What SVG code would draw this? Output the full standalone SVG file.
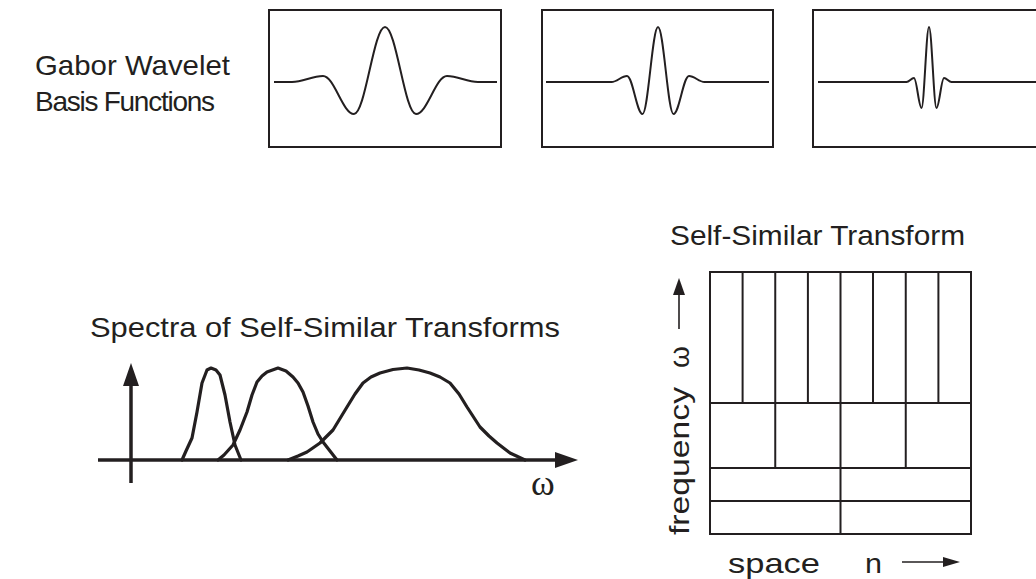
<svg xmlns="http://www.w3.org/2000/svg" width="1036" height="579" viewBox="0 0 1036 579">
<style>
.t{font-family:"Liberation Sans",Arial,sans-serif;font-size:28px;fill:#231f20}
.box{fill:none;stroke:#231f20;stroke-width:2}
.wave{fill:none;stroke:#231f20;stroke-width:2;stroke-linejoin:round}
.spec{fill:none;stroke:#231f20;stroke-width:3.2;stroke-linejoin:round;stroke-linecap:round}
.axis{stroke:#231f20;stroke-width:3.5;fill:none}
.grid{fill:none;stroke:#231f20;stroke-width:2}
.thin{stroke:#231f20;stroke-width:1.6;fill:none}
.head{fill:#231f20;stroke:none}
</style>
<rect width="1036" height="579" fill="#ffffff"/>
<g id="title-gabor">
<text class="t" x="35" y="75" textLength="195" lengthAdjust="spacingAndGlyphs">Gabor Wavelet</text>
<text class="t" x="35" y="111" textLength="180" lengthAdjust="spacing">Basis Functions</text>
</g>
<g id="wavelet1">
<rect class="box" x="269" y="10" width="232" height="137"/>
<path class="wave" d="M274,82 L292,82 C303.3,82 311.7,76 323,76 C334.3,76 342.7,114 354,114 C365.3,114 373.7,27 385,27 C396.3,27 404.7,114 416,114 C427.3,114 435.7,76 447,76 C458.3,76 466.7,82 478,82 L497,82"/>
</g>
<g id="wavelet2">
<rect class="box" x="542" y="10" width="231" height="137"/>
<path class="wave" d="M546,82 L611.5,82 C617.15,82 621.35,76 627,76 C632.65,76 636.85,114 642.5,114 C648.15,114 652.35,27 658,27 C663.65,27 667.85,114 673.5,114 C679.15,114 683.35,76 689,76 C694.65,76 698.85,82 704.5,82 L769,82"/>
</g>
<g id="wavelet3">
<rect class="box" x="813" y="10" width="240" height="137"/>
<path class="wave" d="M818,82 L906.5,82 C909.2,82 911.3,78 914,78 C916.7,78 918.8,108 921.5,108 C924.2,108 926.3,27 929,27 C931.7,27 933.8,108 936.5,108 C939.2,108 941.3,78 944,78 C946.7,78 948.8,82 951.5,82 L1040,82"/>
</g>
<g id="spectra">
<text class="t" x="90" y="337" textLength="470" lengthAdjust="spacingAndGlyphs">Spectra of Self-Similar Transforms</text>
<polyline class="spec" points="182,460 186,451 192,438 197,412 202,383 207,370 211,368 216,370 220,375 225,395 230,422 235,445 241,460"/>
<polyline class="spec" points="218,460 224,455 233,445 240,430 247,412 252,395 257,382 262,376 267,372 278,368 286,371 293,377 298,383 303,392 308,406 313,422 318,434 323,442 330,451 337,460"/>
<polyline class="spec" points="288,460 298,456 307,452 320,443 333,430 347,407 355,394 363,383 371,377 380,373 393,369.5 407,368 419,370 430,373 440,377 450,383 459,394 467,407 480,427 489,436 497,443 510,453 525,460"/>
<text x="531" y="495" style="font-family:'Liberation Serif','Times New Roman',serif;font-size:36px;fill:#231f20">ω</text>
</g>
<g id="connectors">
<line class="axis" x1="98" y1="460" x2="557" y2="460"/>
<polygon class="head" points="555,452 578,460 555,468"/>
<line class="axis" x1="131" y1="483" x2="131" y2="384"/>
<polygon class="head" points="123,386 131,363 139,386"/>
<line class="thin" x1="679" y1="329" x2="679" y2="293"/>
<polygon class="head" points="673,295 679,278 685,295"/>
<line class="thin" x1="902" y1="562" x2="945" y2="562"/>
<polygon class="head" points="943,557 960,562 943,567"/>
</g>
<g id="tiling">
<text class="t" x="670" y="245" textLength="295" lengthAdjust="spacingAndGlyphs">Self-Similar Transform</text>
<rect class="grid" x="710" y="272" width="261" height="262"/>
<line class="grid" x1="710" y1="403" x2="971" y2="403"/>
<line class="grid" x1="710" y1="468" x2="971" y2="468"/>
<line class="grid" x1="710" y1="501" x2="971" y2="501"/>
<line class="grid" x1="742.6" y1="272" x2="742.6" y2="403"/>
<line class="grid" x1="775.25" y1="272" x2="775.25" y2="468"/>
<line class="grid" x1="807.9" y1="272" x2="807.9" y2="403"/>
<line class="grid" x1="840.5" y1="272" x2="840.5" y2="534"/>
<line class="grid" x1="873" y1="272" x2="873" y2="403"/>
<line class="grid" x1="905.75" y1="272" x2="905.75" y2="468"/>
<line class="grid" x1="938.4" y1="272" x2="938.4" y2="403"/>
<text class="t" transform="translate(689,535) rotate(-90)" x="0" y="0" textLength="148" lengthAdjust="spacingAndGlyphs">frequency</text>
<text class="t" transform="translate(689,368) rotate(-90)" x="0" y="0">ω</text>
<text class="t" x="728" y="573" textLength="92" lengthAdjust="spacingAndGlyphs">space</text>
<text class="t" x="865" y="573" textLength="17" lengthAdjust="spacingAndGlyphs">n</text>
</g>
</svg>
